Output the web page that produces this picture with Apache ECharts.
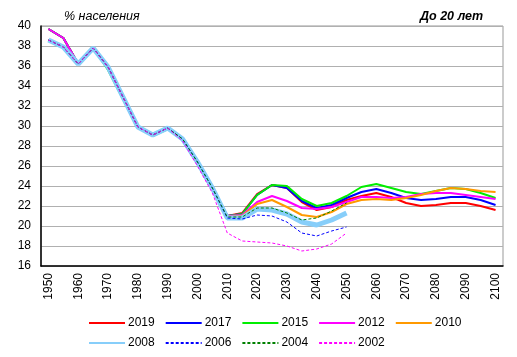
<!DOCTYPE html>
<html>
<head>
<meta charset="utf-8">
<script src="https://cdn.jsdelivr.net/npm/echarts@6/dist/echarts.min.js"></script>
<style>html,body{margin:0;padding:0;background:#fff}#c{width:517px;height:357px}</style>
</head>
<body>
<div id="c"></div>
<script>
var years = [];
for (var y = 1950; y <= 2100; y += 5) years.push(String(y));

var past1 = [39.7, 38.8, 36.2, 37.8, 35.9, 32.9, 29.9, 29.1, 29.8, 28.7, 26.4, 23.8];
var past2 = [38.6, 37.9, 36.2, 37.8, 35.9, 32.9, 29.9, 29.1, 29.8, 28.7, 26.4, 23.8];

var s2019 = past1.concat([21.0, 21.3, 23.2, 24.1, 23.8, 22.4, 21.6, 21.9, 22.6, 23.0, 23.3, 22.9, 22.3, 22.0, 22.1, 22.3, 22.3, 22.0, 21.6]);
var s2017 = past1.concat([21.0, 21.2, 23.1, 24.1, 23.8, 22.5, 21.8, 22.1, 22.8, 23.4, 23.7, 23.3, 22.8, 22.6, 22.7, 22.9, 22.9, 22.6, 22.1]);
var s2015 = [39.7, 38.8, 36.2, 37.8, 35.6, 32.7, 29.9, 29.0, 29.7, 28.6, 26.4, 23.8].concat([21.0, 21.2, 23.1, 24.1, 24.0, 22.7, 22.0, 22.3, 23.0, 23.9, 24.2, 23.8, 23.4, 23.2, 23.5, 23.8, 23.7, 23.3, 22.8]);
var s2012 = past1.concat([21.0, 21.1, 22.4, 23.0, 22.5, 21.8, 21.7, 21.9, 22.4, 22.9, 22.9, 22.8, 22.9, 23.2, 23.3, 23.3, 23.1, 22.9, 22.7]);
var s2010 = past2.concat([20.9, 21.0, 22.2, 22.6, 21.9, 21.1, 20.9, 21.4, 22.2, 22.6, 22.7, 22.6, 22.8, 23.1, 23.5, 23.8, 23.7, 23.5, 23.4]);
var s2008 = past2.concat([20.8, 20.8, 21.7, 21.6, 21.2, 20.4, 20.1, 20.6, 21.3]);
var s2006 = past2.concat([20.8, 20.7, 21.1, 21.0, 20.4, 19.3, 19.0, 19.5, 19.9]);
var s2004 = past2.concat([20.9, 20.9, 21.8, 21.8, 21.3, 20.6, 20.8, 21.5, 22.3]);
var s2002 = [38.6, 37.9, 36.2, 37.8, 35.9, 32.9, 29.9, 29.1, 29.8, 28.5, 26.0, 23.3].concat([19.3, 18.5, 18.4, 18.3, 18.0, 17.5, 17.7, 18.2, 19.3]);

var yTicks = [16, 18, 20, 22, 24, 26, 28, 30, 32, 34, 36, 38, 40];

function solid(name, data, color, w) {
  return {name: name, type: 'line', data: data, symbol: 'none', smooth: false,
    lineStyle: {color: color, width: w}, itemStyle: {color: color}};
}
function dashed(name, data, color) {
  return {name: name, type: 'line', data: data, symbol: 'none',
    lineStyle: {color: color, width: 1, type: [3, 2]}, itemStyle: {color: color}};
}

var chart = echarts.init(document.getElementById('c'), null, {renderer: 'canvas'});
var font = 'Liberation Sans, Arial, sans-serif';
var legendCommon = {
  itemWidth: 36, itemHeight: 8, itemGap: 10,
  itemStyle: {opacity: 0},
  textStyle: {fontSize: 12, color: '#000', fontFamily: font, padding: [0, 0, 0, -2]}
};
chart.setOption({
  animation: false,
  textStyle: {fontFamily: font},
  title: [
    {text: '% населения', left: 59, top: 5, textStyle: {fontSize: 12.5, fontStyle: 'italic', fontWeight: 'normal', color: '#000', fontFamily: font}},
    {text: 'До 20 лет', left: 415, top: 5, textStyle: {fontSize: 12.5, fontStyle: 'italic', fontWeight: 'bold', color: '#000', fontFamily: font}}
  ],
  legend: [
    Object.assign({data: ['2019', '2017', '2015', '2012', '2010'], left: 83, top: 312}, legendCommon),
    Object.assign({data: ['2008', '2006', '2004', '2002'], left: 83, top: 332}, legendCommon)
  ],
  grid: {left: 41, right: 14, top: 26, bottom: 91, show: true, borderColor: '#999', borderWidth: 1},
  xAxis: {
    type: 'category', data: years, boundaryGap: true,
    axisLine: {lineStyle: {color: '#000', width: 1.5}},
    axisTick: {show: false},
    axisLabel: {rotate: 90, interval: 1, fontSize: 12, color: '#000', margin: 7, fontFamily: font},
    splitLine: {show: false}
  },
  yAxis: {
    type: 'value', min: 16, max: 40, interval: 2,
    axisLine: {show: true, lineStyle: {color: '#000', width: 1.5}},
    axisTick: {show: false},
    axisLabel: {fontSize: 12, color: '#000', margin: 10, fontFamily: font},
    splitLine: {lineStyle: {color: '#b0b0b0', width: 1}}
  },
  series: [
    solid('2019', s2019, '#ff0000', 2),
    solid('2017', s2017, '#0000ff', 2),
    solid('2015', s2015, '#00ee00', 2),
    solid('2012', s2012, '#ff00ff', 2),
    solid('2010', s2010, '#ff9900', 2),
    solid('2008', s2008, '#87cefa', 5),
    dashed('2006', s2006, '#0000ff'),
    dashed('2004', s2004, '#008000'),
    dashed('2002', s2002, '#ff00ff')
  ]
});
</script>
</body>
</html>
